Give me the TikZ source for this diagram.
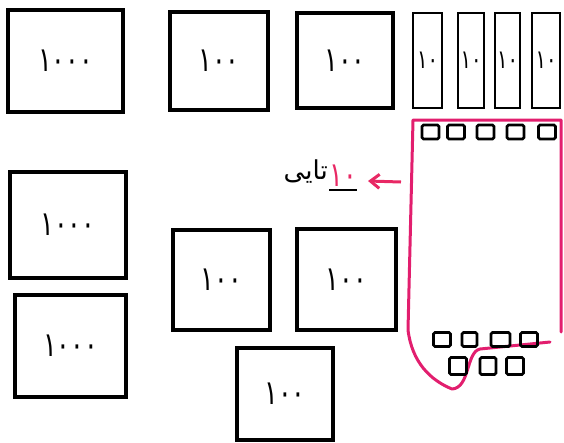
\documentclass[tikz,border=0pt]{standalone}
\usepackage{fontspec}
\newfontfamily\arabicfont[Script=Arabic]{DejaVu Sans}
\newfontfamily\digitfont[Script=Arabic,FakeStretch=0.75]{DejaVu Sans}
\TeXXeTstate=1
\usetikzlibrary{arrows.meta}
\definecolor{pinkline}{RGB}{226,30,110}
\definecolor{redtext}{RGB}{232,40,100}
\tikzset{
  bigbox/.style={draw=black, line width=3.2pt, inner sep=0pt, font=\digitfont\fontsize{34}{34}\selectfont},
  barbox/.style={draw=black, line width=2.8pt, inner sep=0pt, minimum width=27pt, minimum height=95pt, font=\digitfont\fontsize{26}{26}\selectfont},
  unit/.style={draw=black, line width=2.6pt, rounded corners=1.5pt, inner sep=0pt, minimum width=17pt, minimum height=14pt},
}
\begin{document}
\begin{tikzpicture}[x=1pt,y=-1pt]
\useasboundingbox (0,0) rectangle (564,442);
% thousands
\node[bigbox, minimum width=115pt, minimum height=102pt] (A) at (65.5,61) {\beginR ۱۰۰۰\endR};
\node[bigbox, minimum width=116pt, minimum height=106pt] (D) at (68,225) {\beginR ۱۰۰۰\endR};
\node[bigbox, minimum width=111pt, minimum height=102pt] (E) at (70.5,346) {\beginR ۱۰۰۰\endR};
% hundreds
\node[bigbox, minimum width=98pt, minimum height=98pt] (B) at (219,61) {\beginR ۱۰۰\endR};
\node[bigbox, minimum width=96pt, minimum height=95pt] (C) at (345,60.5) {\beginR ۱۰۰\endR};
\node[bigbox, minimum width=97pt, minimum height=100pt] (F) at (221.5,280) {\beginR ۱۰۰\endR};
\node[bigbox, minimum width=99pt, minimum height=101pt] (G) at (346.5,279.5) {\beginR ۱۰۰\endR};
\node[bigbox, minimum width=96pt, minimum height=92pt] (H) at (285,394) {\beginR ۱۰۰\endR};
% tens
\node[barbox, minimum width=29pt] (T1) at (427.5,60.5) {\beginR ۱۰\endR};
\node[barbox, minimum width=26pt] (T2) at (471,60.5) {\beginR ۱۰\endR};
\node[barbox, minimum width=25pt] (T3) at (507.5,60.5) {\beginR ۱۰\endR};
\node[barbox, minimum width=28pt] (T4) at (546,60.5) {\beginR ۱۰\endR};
% pink group outline
\draw[pinkline, line width=3pt, line join=round, line cap=round]
  (561,332) -- (561,120) -- (413,120) -- (408,330)
  .. controls (412,362) and (430,380) .. (452,389)
  .. controls (470,388) and (466,352) .. (480,349)
  -- (550,342);
% units
\node[unit] (u1) at (430.5,132) {};
\node[unit] (u2) at (456,132) {};
\node[unit] (u3) at (485.5,132) {};
\node[unit] (u4) at (515.5,132) {};
\node[unit] (u5) at (547,132) {};
\node[unit] (u6) at (442,339.5) {};
\node[unit, minimum width=15pt] (u7) at (469.5,339.5) {};
\node[unit, minimum width=19pt] (u8) at (500.5,339.5) {};
\node[unit] (u9) at (529,339.5) {};
\node[unit, minimum height=17pt] (u10) at (458,366) {};
\node[unit, minimum width=16pt, minimum height=17pt] (u11) at (488,366) {};
\node[unit, minimum height=17pt] (u12) at (515,366) {};
% label
\node[text=redtext, font=\digitfont\fontsize{34}{34}\selectfont, inner sep=1pt] (ten) at (343,176) {\beginR ۱۰\endR};
\draw[black, line width=2.6pt] (329,190) -- (357,190);
\node[font=\arabicfont\fontsize{26}{26}\selectfont, inner sep=1pt, anchor=east] (tayi) at (329,172) {\beginR تایی\endR};
\coordinate (arrstart) at (401,182);
\draw[redtext, line width=3pt, -{Straight Barb[length=9pt,width=14pt]}] (arrstart) -- (368,181);
\end{tikzpicture}
\end{document}
